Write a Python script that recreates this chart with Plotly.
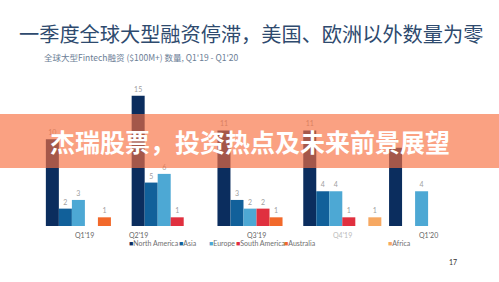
import plotly.graph_objects as go

quarters = ["Q1'19", "Q2'19", "Q3'19", "Q4'19", "Q1'20"]
series_names = ["North America", "Asia", "Europe", "South America", "Australia", "Africa"]
north_america = [10, 15, 11, 11, 9]
asia = [2, 5, 3, 4, 0]
europe = [3, 6, 2, 4, 4]
south_america = [0, 1, 2, 1, 0]
australia = [1, 0, 1, 0, 0]
africa = [0, 0, 0, 1, 0]
series_values = [north_america, asia, europe, south_america, australia, africa]
colors = ["#0B2D5E", "#11609A", "#4DA8D4", "#E0303F", "#F2692B", "#F6A862"]

title_text = "一季度全球大型融资停滞，美国、欧洲以外数量为零"
subtitle_text = "全球大型Fintech融资 ($100M+) 数量, Q1'19 - Q1'20"
banner_text = "杰瑞股票，投资热点及未来前景展望"
page_number = "17"

W, H = 499, 282
L, R, T, B = 42, 28, 74, 56
pw, ph = W - L - R, H - T - B

def px(x):
    return (x - L) / pw

def py(y):
    return (H - B - y) / ph

fig = go.Figure()
for name, vals, col in zip(series_names, series_values, colors):
    fig.add_trace(go.Bar(
        x=quarters, y=vals, name=name, marker=dict(color=col, line=dict(width=0)),
        text=[str(v) if v else "" for v in vals], textposition="outside",
        textfont=dict(size=7, color="#A0A0A0", family="Lato"), cliponaxis=False,
        showlegend=False,
    ))

annotations = []
# x labels
label_shift = [0, -32, 0, 0, 0]
label_color = ["#666666", "#666666", "#666666", "#BBBBBB", "#666666"]
for q, s, c in zip(quarters, label_shift, label_color):
    annotations.append(dict(x=q, xref="x", y=py(235), yref="paper", text=q, showarrow=False,
                            xshift=s, font=dict(size=7, color=c, family="Lato"),
                            xanchor="center", yanchor="middle"))
# legend
legend_x = [127, 177, 207, 234, 282, 386]
for name, col, lx in zip(series_names, colors, legend_x):
    annotations.append(dict(x=px(lx), xref="paper", y=py(243), yref="paper",
                            text=f'<span style="color:{col}">■</span>{name}', showarrow=False,
                            font=dict(size=7, color="#707070", family="Lato"),
                            xanchor="left", yanchor="middle"))
# title & subtitle
annotations.append(dict(x=px(17), xref="paper", y=py(33), yref="paper", text=title_text,
                        showarrow=False, xanchor="left", yanchor="middle",
                        font=dict(size=20.2, color="#2E4A6E", family="Noto Sans CJK SC")))
annotations.append(dict(x=px(42), xref="paper", y=py(57), yref="paper", text=subtitle_text,
                        showarrow=False, xanchor="left", yanchor="middle",
                        font=dict(size=8.5, color="#6B7D95", family="Noto Sans CJK SC")))
# banner text
annotations.append(dict(x=px(250), xref="paper", y=py(141), yref="paper", text=f"<b>{banner_text}</b>",
                        showarrow=False, xanchor="center", yanchor="middle",
                        font=dict(size=25, color="#FFFFFF", family="Noto Sans CJK SC")))
annotations.append(dict(x=px(453), xref="paper", y=py(262), yref="paper", text=page_number,
                        showarrow=False, xanchor="center", yanchor="middle",
                        font=dict(size=7, color="#333333", family="Lato")))

fig.update_layout(
    width=W, height=H, margin=dict(l=L, r=R, t=T, b=B),
    paper_bgcolor="white", plot_bgcolor="white",
    barmode="group", bargap=0.09, bargroupgap=0,
    xaxis=dict(type="category", range=[-0.5, 4.5], showticklabels=False, showgrid=False,
               zeroline=False, showline=False, ticks=""),
    yaxis=dict(range=[0, 17.5], visible=False, showgrid=False, zeroline=False),
    annotations=annotations,
    shapes=[dict(type="rect", xref="paper", yref="paper", x0=px(0), x1=px(W),
                 y0=py(168), y1=py(114), fillcolor="rgba(248,110,63,0.65)",
                 line=dict(width=0), layer="above")],
    showlegend=False,
)

fig.write_html("out.html")
